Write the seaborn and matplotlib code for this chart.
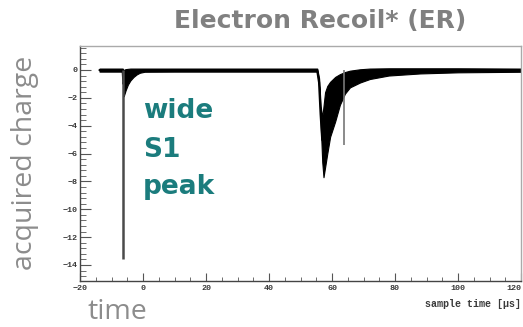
import matplotlib
matplotlib.use("Agg")
import matplotlib.pyplot as plt
from matplotlib.ticker import MultipleLocator
import numpy as np
import pandas as pd
import seaborn as sns

# Digitised waveform envelope: sample time [us] with lower / upper charge bound
time_us = [-13.8, -6.45, -6.2, -6.0, -5.5, -4.8, -4.0, -3.0, -2.0, -1.0, 0.5, 10.0,
           30.0, 55.3, 55.9, 56.4, 56.9, 57.3, 57.8, 58.5, 59.4, 61.0, 62.5, 64.1,
           65.7, 68.9, 72.0, 78.0, 88.0, 100.0, 120.0]
charge_low = [-0.12, -0.12, -1.9, -1.8, -1.45, -1.05, -0.75, -0.5, -0.32, -0.2, -0.13, -0.12,
              -0.12, -0.12, -1.2, -3.8, -6.6, -7.7, -7.0, -6.0, -4.8, -3.7, -2.5, -1.7,
              -1.25, -0.9, -0.65, -0.4, -0.25, -0.17, -0.13]
charge_high = [0.1, 0.1, -0.1, 0.02, 0.06, 0.08, 0.1, 0.1, 0.1, 0.1, 0.1, 0.1,
               0.1, 0.1, -0.6, -2.6, -3.4, -2.6, -1.6, -1.15, -0.85, -0.5, -0.3, -0.15,
               -0.05, 0.05, 0.1, 0.12, 0.12, 0.12, 0.1]

# Narrow single-sample spikes
spike_time = [-6.25, 63.8]
spike_depth = [-13.6, -5.4]

# Axis tick values
x_ticks = [-20, 0, 20, 40, 60, 80, 100, 120]
y_ticks = [0, -2, -4, -6, -8, -10, -12, -14]

wave = pd.DataFrame({"t": time_us, "low": charge_low, "high": charge_high})
wave["mid"] = (wave["low"] + wave["high"]) / 2

sns.set_theme(style="white")
plt.rcParams["font.family"] = ["DejaVu Sans"]

fig = plt.figure(figsize=(5.23, 3.27), dpi=100)
ax = fig.add_axes([80 / 523, 46 / 327, 441 / 523, 235 / 327])

ax.fill_between(wave["t"], wave["low"], wave["high"], color="black", linewidth=0.8,
                edgecolor="black")
sns.lineplot(data=wave, x="t", y="mid", ax=ax, color="black", linewidth=1.6,
             estimator=None, sort=False)
ax.vlines(spike_time, 0, spike_depth, colors=["#4a4a4a", "#777777"], linewidth=[1.8, 1.2])

ax.set_xlim(-20, 120)
ax.set_ylim(-15.15, 1.72)
ax.set_xlabel("")
ax.set_ylabel("")

ax.set_xticks(x_ticks)
ax.set_yticks(y_ticks)
ax.xaxis.set_minor_locator(MultipleLocator(5))
ax.yaxis.set_minor_locator(MultipleLocator(0.4))
ax.tick_params(axis="both", which="both", direction="in", colors="#555555",
               labelcolor="#3a3a3a", labelsize=6, top=False, right=False,
               bottom=True, left=True)
ax.tick_params(axis="y", which="major", length=8, width=0.8, pad=2)
ax.tick_params(axis="y", which="minor", length=4, width=0.6)
ax.tick_params(axis="x", which="major", length=6, width=0.8, pad=3)
ax.tick_params(axis="x", which="minor", length=3, width=0.6)
for lab in ax.get_xticklabels() + ax.get_yticklabels():
    lab.set_fontfamily("Liberation Mono")
    lab.set_fontweight("bold")
ax.get_xticklabels()[-1].set_horizontalalignment("right")

for side, sp in ax.spines.items():
    sp.set_visible(True)
    sp.set_linewidth(1.0)
    sp.set_color("#444444" if side in ("left", "bottom") else "#aaaaaa")

ax.text(1.0, -0.075, "sample time [\u00b5s]", transform=ax.transAxes, ha="right",
        va="top", fontsize=7.2, family="Liberation Mono", fontweight="bold",
        color="#3a3a3a", clip_on=False)

fig.text(320 / 523, 1 - 28 / 327, "Electron Recoil* (ER)", ha="center", va="baseline",
         fontsize=18, family="DejaVu Sans", fontweight="bold", color="#808080")
fig.text(25 / 523, 1 - 163 / 327, "acquired charge", ha="center", va="center",
         rotation=90, fontsize=20.5, family="Open Sans", color="#8c8c8c")
fig.text(88 / 523, 1 - 319 / 327, "time", ha="left", va="baseline",
         fontsize=20.5, family="Open Sans", color="#8c8c8c")

for label, ybase in [("wide", 118), ("S1", 157), ("peak", 194)]:
    fig.text(143 / 523, 1 - ybase / 327, label, ha="left", va="baseline",
             fontsize=19, family="DejaVu Sans", fontweight="bold", color="#1b7c7d")

fig.savefig("out.png", dpi=100)
